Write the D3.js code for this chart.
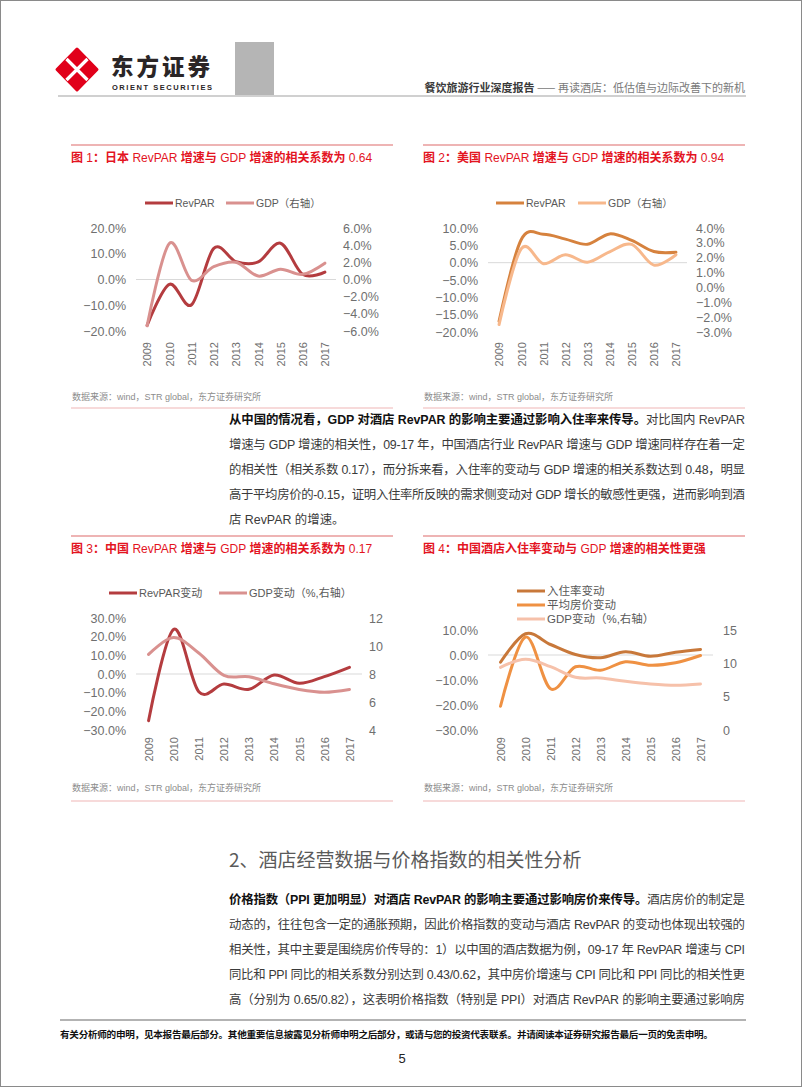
<!DOCTYPE html>
<html><head><meta charset="utf-8">
<script src="https://cdn.jsdelivr.net/npm/d3@7"></script>
<style>
html,body{margin:0;padding:0;background:#fff;}
svg{display:block;}
text{font-family:"Liberation Sans","Noto Sans CJK SC",sans-serif;}
</style></head><body>
<svg id="page" width="802" height="1087"></svg>
<script>
// ---------------- data ----------------
const years = ["2009","2010","2011","2012","2013","2014","2015","2016","2017"];

const jpRevpar = [-17.8, -1.9, -9.8, 12.1, 6.9, 6.8, 14.1, 2.0, 2.9];
const jpGdp    = [-5.4, 4.2, -0.1, 1.5, 2.0, 0.4, 1.2, 0.6, 1.9];

const usRevpar = [-16.9, 6.6, 8.2, 6.8, 5.3, 8.3, 6.4, 3.2, 3.0];
const usGdp    = [-2.5, 2.6, 1.6, 2.2, 1.7, 2.4, 2.9, 1.5, 2.2];

const cnRevpar = [-25.0, 23.9, -9.5, -5.4, -8.2, -0.5, -5.0, -1.4, 3.6];
const cnGdp    = [9.4, 10.6, 9.5, 7.9, 7.8, 7.3, 6.9, 6.7, 6.9];

const cnOcc    = [-2.9, 8.5, 4.2, 0.2, -1.1, 1.3, -0.5, 1.1, 2.2];
const cnAdr    = [-20.5, 7.2, -13.5, -4.7, -6.1, -2.7, -4.1, -3.1, -0.2];

const ticksJpLeft  = [20, 10, 0, -10, -20];
const ticksJpRight = [6, 4, 2, 0, -2, -4, -6];
const ticksUsLeft  = [10, 5, 0, -5, -10, -15, -20];
const ticksUsRight = [4, 3, 2, 1, 0, -1, -2, -3];
const ticksCnLeft  = [30, 20, 10, 0, -10, -20, -30];
const ticksCnRight = [12, 10, 8, 6, 4];
const ticksC4Left  = [10, 0, -10, -20, -30];
const ticksC4Right = [15, 10, 5, 0];

const titles = [
  "图 1：日本 RevPAR 增速与 GDP 增速的相关系数为 0.64",
  "图 2：美国 RevPAR 增速与 GDP 增速的相关系数为 0.94",
  "图 3：中国 RevPAR 增速与 GDP 增速的相关系数为 0.17",
  "图 4：中国酒店入住率变动与 GDP 增速的相关性更强"
];
const sourceText = "数据来源：wind，STR global，东方证券研究所";

const para1 = [
  [["从中国的情况看，GDP 对酒店 RevPAR 的影响主要通过影响入住率来传导。", true], ["对比国内 RevPAR", false]],
  [["增速与 GDP 增速的相关性，09-17 年，中国酒店行业 RevPAR 增速与 GDP 增速同样存在着一定", false]],
  [["的相关性（相关系数 0.17），而分拆来看，入住率的变动与 GDP 增速的相关系数达到 0.48，明显", false]],
  [["高于平均房价的-0.15，证明入住率所反映的需求侧变动对 GDP 增长的敏感性更强，进而影响到酒", false]],
  [["店 RevPAR 的增速。", false]]
];
const para2 = [
  [["价格指数（PPI 更加明显）对酒店 RevPAR 的影响主要通过影响房价来传导。", true], ["酒店房价的制定是", false]],
  [["动态的，往往包含一定的通胀预期，因此价格指数的变动与酒店 RevPAR 的变动也体现出较强的", false]],
  [["相关性，其中主要是围绕房价传导的：1）以中国的酒店数据为例，09-17 年 RevPAR 增速与 CPI", false]],
  [["同比和 PPI 同比的相关系数分别达到 0.43/0.62，其中房价增速与 CPI 同比和 PPI 同比的相关性更", false]],
  [["高（分别为 0.65/0.82），这表明价格指数（特别是 PPI）对酒店 RevPAR 的影响主要通过影响房", false]]
];

// ---------------- page ----------------
const svg = d3.select("#page");
svg.append("rect").attr("x",0.5).attr("y",0.5).attr("width",801).attr("height",1086)
  .attr("fill","none").attr("stroke","#8a8a8a").attr("stroke-width",1);

// header logo
const logo = svg.append("g");
logo.append("path").attr("d","M77,49 L97,69.5 L77,90 L57,69.5 Z")
  .attr("fill","#e1001a").attr("stroke","#e1001a").attr("stroke-width",3).attr("stroke-linejoin","round");
logo.append("path").attr("d","M66.5,59 L87.5,80 M87.5,59 L66.5,80")
  .attr("stroke","#fff").attr("stroke-width",3.2);
logo.append("text").attr("x",111).attr("y",65).attr("dominant-baseline","central")
  .style("font-family","'Noto Sans CJK SC'").style("font-weight",900).attr("font-size",22.5)
  .attr("fill","#2a2526").attr("textLength",99).text("东方证券");
logo.append("text").attr("x",112).attr("y",87).attr("dominant-baseline","central")
  .attr("font-size",7.5).style("font-weight","bold").attr("fill","#2a2526")
  .attr("textLength",100).attr("lengthAdjust","spacing").text("ORIENT    SECURITIES");
svg.append("rect").attr("x",235).attr("y",42).attr("width",39).attr("height",54).attr("fill","#b5b5b5");
svg.append("line").attr("x1",58).attr("x2",746).attr("y1",96).attr("y2",96).attr("stroke","#d0d0d0").attr("stroke-width",2);
const ht = svg.append("text").attr("x",745).attr("y",87).attr("text-anchor","end").attr("dominant-baseline","central")
  .style("font-family","'Noto Sans CJK SC'").attr("font-size",11);
ht.append("tspan").attr("fill","#3a3a3a").style("font-weight","bold").text("餐饮旅游行业深度报告 ");
ht.append("tspan").attr("fill","#7a7a7a").text("—— 再读酒店：低估值与边际改善下的新机");

// ---------------- chart builder ----------------
const pctFmt = d => d3.format(".1f")(d) + "%";
const intFmt = d => d3.format("d")(d);

function drawTitle(g, x, y, str) {
  const t = g.append("text").attr("x", x).attr("y", y).attr("dominant-baseline","central")
    .attr("font-size", 12).attr("fill", "#e3141f");
  str.split(/([A-Za-z0-9.]+)/).forEach(seg => {
    if (!seg) return;
    const latin = /^[A-Za-z0-9.]+$/.test(seg);
    t.append("tspan").style("font-weight", latin ? "normal" : "bold").text(seg);
  });
}

function chart(cfg) {
  const g = svg.append("g");
  g.append("line").attr("x1",cfg.bx0).attr("x2",cfg.bx1).attr("y1",cfg.ruleTop).attr("y2",cfg.ruleTop)
    .attr("stroke","#e99b9b").attr("stroke-width",1.5);
  g.append("line").attr("x1",cfg.bx0).attr("x2",cfg.bx1).attr("y1",cfg.ruleBottom).attr("y2",cfg.ruleBottom)
    .attr("stroke","#efb5b5").attr("stroke-width",1);
  drawTitle(g, cfg.bx0, cfg.ruleTop + 13, cfg.title);
  g.append("text").attr("x",cfg.bx0 + 1).attr("y",cfg.srcY).attr("dominant-baseline","central")
    .attr("font-size",9).attr("fill","#8c8c8c").text(sourceText);

  const x = d3.scalePoint().domain(years).range([cfg.x0, cfg.x1]).padding(0.5);
  const yL = d3.scaleLinear().domain(cfg.leftDomain).range([cfg.yBottom, cfg.yTop]);
  const yR = d3.scaleLinear().domain(cfg.rightDomain).range([cfg.yBottom, cfg.yTop]);

  g.append("line").attr("x1",cfg.x0).attr("x2",cfg.x1).attr("y1",yL(0)).attr("y2",yL(0))
    .attr("stroke","#d9d9d9").attr("stroke-width",1);

  const la = g.append("g").attr("transform",`translate(${cfg.x0},0)`)
    .call(d3.axisLeft(yL).tickValues(cfg.leftTicks).tickFormat(pctFmt).tickSize(0).tickPadding(10));
  const ra = g.append("g").attr("transform",`translate(${cfg.x1},0)`)
    .call(d3.axisRight(yR).tickValues(cfg.rightTicks).tickFormat(cfg.rightFmt).tickSize(0).tickPadding(cfg.rPad));
  const xa = g.append("g").attr("transform",`translate(0,${cfg.yearTop})`)
    .call(d3.axisBottom(x).tickSize(0));
  [la, ra, xa].forEach(a => {
    a.select(".domain").remove();
    a.selectAll("text").attr("fill","#6f6f6f").style("font-family","'Liberation Sans',sans-serif");
  });
  la.selectAll("text").attr("font-size",12.5);
  ra.selectAll("text").attr("font-size",12.5);
  xa.selectAll("text").attr("font-size",11).attr("transform","rotate(-90)")
    .attr("x",0).attr("y",0).attr("dy","0.35em").attr("text-anchor","end");

  const line = (scale) => d3.line()
    .x((d,i) => x(years[i])).y(d => scale(d))
    .curve(d3.curveCardinal.tension(0));
  cfg.series.forEach(s => {
    g.append("path").datum(s.values).attr("d", line(s.axis === "right" ? yR : yL)(s.values))
      .attr("fill","none").attr("stroke", s.color).attr("stroke-width",3)
      .attr("stroke-linecap","round").attr("stroke-linejoin","round");
  });

  cfg.legend.forEach((l, i) => {
    const s = cfg.series[i];
    g.append("line").attr("x1",l.lx).attr("x2",l.lx + 28).attr("y1",l.y).attr("y2",l.y)
      .attr("stroke", s.color).attr("stroke-width",3);
    g.append("text").attr("x",l.lx + 30).attr("y",l.y).attr("dominant-baseline","central")
      .attr("font-size",cfg.legendSize).attr("fill","#595959").text(s.name);
  });
}

chart({
  title: titles[0], bx0: 71, bx1: 393, ruleTop: 145, ruleBottom: 408, srcY: 397,
  x0: 136, x1: 336, yTop: 228, yBottom: 331, yearTop: 342,
  leftDomain: [-20, 20], rightDomain: [-6, 6], leftTicks: ticksJpLeft, rightTicks: ticksJpRight,
  rightFmt: pctFmt, rPad: 7, legendSize: 10.5,
  series: [
    {name: "RevPAR", values: jpRevpar, axis: "left", color: "#b43c3f"},
    {name: "GDP（右轴）", values: jpGdp, axis: "right", color: "#d9918f"}
  ],
  legend: [{lx: 145, y: 203}, {lx: 226, y: 203}]
});

chart({
  title: titles[1], bx0: 423, bx1: 745, ruleTop: 145, ruleBottom: 408, srcY: 397,
  x0: 488, x1: 687, yTop: 228, yBottom: 332, yearTop: 342,
  leftDomain: [-20, 10], rightDomain: [-3, 4], leftTicks: ticksUsLeft, rightTicks: ticksUsRight,
  rightFmt: pctFmt, rPad: 9, legendSize: 10.5,
  series: [
    {name: "RevPAR", values: usRevpar, axis: "left", color: "#d6823e"},
    {name: "GDP（右轴）", values: usGdp, axis: "right", color: "#f7b88c"}
  ],
  legend: [{lx: 496, y: 203}, {lx: 578, y: 203}]
});

chart({
  title: titles[2], bx0: 71, bx1: 393, ruleTop: 536, ruleBottom: 801, srcY: 788,
  x0: 136, x1: 362, yTop: 618, yBottom: 730, yearTop: 737,
  leftDomain: [-30, 30], rightDomain: [4, 12], leftTicks: ticksCnLeft, rightTicks: ticksCnRight,
  rightFmt: intFmt, rPad: 7, legendSize: 11,
  series: [
    {name: "RevPAR变动", values: cnRevpar, axis: "left", color: "#b43c3f"},
    {name: "GDP变动（%,右轴）", values: cnGdp, axis: "right", color: "#d9918f"}
  ],
  legend: [{lx: 109, y: 593}, {lx: 219, y: 593}]
});

chart({
  title: titles[3], bx0: 423, bx1: 745, ruleTop: 536, ruleBottom: 801, srcY: 788,
  x0: 488, x1: 713, yTop: 630, yBottom: 730, yearTop: 737,
  leftDomain: [-30, 10], rightDomain: [0, 15], leftTicks: ticksC4Left, rightTicks: ticksC4Right,
  rightFmt: intFmt, rPad: 10, legendSize: 11.5,
  series: [
    {name: "入住率变动", values: cnOcc, axis: "left", color: "#c8783a"},
    {name: "平均房价变动", values: cnAdr, axis: "left", color: "#ef9143"},
    {name: "GDP变动（%,右轴）", values: cnGdp, axis: "right", color: "#f6c1aa"}
  ],
  legend: [{lx: 517, y: 591}, {lx: 517, y: 605}, {lx: 517, y: 619}]
});

// ---------------- body text ----------------
function paragraph(lines, x, y0, lh, width, justifyLast) {
  lines.forEach((segs, i) => {
    const t = svg.append("text").attr("x", x).attr("y", y0 + i * lh)
      .attr("dominant-baseline","central").attr("font-size",12.4);
    if (i < lines.length - 1 || justifyLast)
      t.attr("textLength", width).attr("lengthAdjust","spacing");
    segs.forEach(([s, b]) => t.append("tspan").attr("fill", b ? "#111" : "#3a3a3a")
      .style("font-weight", b ? "bold" : "normal").text(s));
  });
}
paragraph(para1, 229, 420, 25.1, 516, false);

svg.append("text").attr("x",229).attr("y",858).attr("dominant-baseline","central")
  .style("font-family","'Noto Sans CJK SC'").attr("font-size",19).attr("fill","#5a5a5a")
  .text("2、酒店经营数据与价格指数的相关性分析");

paragraph(para2, 229, 900, 25.1, 516, true);

// footer
svg.append("line").attr("x1",60).attr("x2",746).attr("y1",1020).attr("y2",1020).attr("stroke","#b3b3b3").attr("stroke-width",2);
svg.append("text").attr("x",60).attr("y",1034).attr("dominant-baseline","central")
  .style("font-family","'Noto Sans CJK SC'").style("font-weight","bold").attr("font-size",9.6).attr("fill","#111")
  .attr("textLength",653).attr("lengthAdjust","spacing")
  .text("有关分析师的申明，见本报告最后部分。其他重要信息披露见分析师申明之后部分，或请与您的投资代表联系。并请阅读本证券研究报告最后一页的免责申明。");
svg.append("text").attr("x",402).attr("y",1058).attr("text-anchor","middle").attr("dominant-baseline","central")
  .attr("font-size",13).attr("fill","#222").text("5");
</script>
</body></html>
